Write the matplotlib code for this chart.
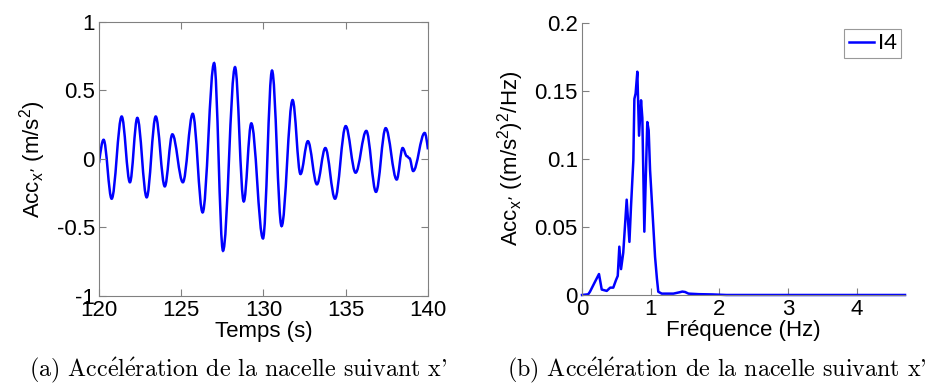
import matplotlib
matplotlib.use("Agg")
import matplotlib.pyplot as plt
from matplotlib.path import Path
from matplotlib.patches import PathPatch
from matplotlib.ticker import FixedLocator, FixedFormatter

# ---------------- data ----------------
# (a) time signal: start point, successive extrema, end point
time_s = [120.0, 120.28, 120.77, 121.38, 121.88, 122.33, 122.9, 123.45, 124.0,
          124.46, 125.1, 125.7, 126.3, 127.0, 127.54, 128.27, 128.8, 129.26,
          129.97, 130.52, 131.1, 131.77, 132.25, 132.7, 133.25, 133.76, 134.35,
          135.0, 135.6, 136.25, 136.84, 137.43, 138.1, 138.46, 138.72, 138.88,
          139.1, 139.8, 140.0]
acc_x = [-0.03, 0.14, -0.29, 0.31, -0.17, 0.30, -0.28, 0.31, -0.20,
         0.18, -0.17, 0.33, -0.39, 0.70, -0.67, 0.67, -0.31, 0.26,
         -0.58, 0.645, -0.49, 0.43, -0.11, 0.13, -0.185, 0.08, -0.29,
         0.24, -0.10, 0.205, -0.24, 0.225, -0.15, 0.08, 0.02, 0.005,
         -0.088, 0.19, 0.07]

# (b) spectrum
freq_hz = [0.0, 0.09, 0.116, 0.19, 0.247, 0.287, 0.36, 0.41, 0.455, 0.495, 0.52,
           0.543, 0.568, 0.60, 0.65, 0.69, 0.713, 0.747, 0.762, 0.78, 0.805,
           0.83, 0.859, 0.878, 0.907, 0.95, 0.97, 0.99, 1.03, 1.063, 1.09,
           1.11, 1.16, 1.33, 1.42, 1.46, 1.50, 1.55, 1.7, 1.9, 2.1, 4.7]
psd = [0.0, 0.0005, 0.0024, 0.0098, 0.0154, 0.004, 0.003, 0.0054, 0.0054, 0.011, 0.014,
       0.0355, 0.019, 0.031, 0.070, 0.039, 0.065, 0.099, 0.144, 0.148, 0.164,
       0.117, 0.143, 0.130, 0.0465, 0.127, 0.121, 0.092, 0.057, 0.028, 0.012,
       0.0024, 0.001, 0.001, 0.002, 0.0025, 0.0022, 0.001, 0.0006, 0.0004, 0.0, 0.0]

xticks_a = [120, 125, 130, 135, 140]
yticks_a = [-1, -0.5, 0, 0.5, 1]
yticklabels_a = ["-1", "-0.5", "0", "0.5", "1"]
xticks_b = [0, 1, 2, 3, 4]
yticks_b = [0, 0.05, 0.1, 0.15, 0.2]
yticklabels_b = ["0", "0.05", "0.1", "0.15", "0.2"]
legend_label = "I4"
# é written with a Computer-Modern math accent so the caption stays in one face
caption_a = r"(a) Acc$\mathrm{\acute{e}}$l$\mathrm{\acute{e}}$ration de la nacelle suivant x'"
caption_b = r"(b) Acc$\mathrm{\acute{e}}$l$\mathrm{\acute{e}}$ration de la nacelle suivant x'"

# ---------------- style ----------------
plt.rcParams['font.family'] = ['Liberation Sans', 'DejaVu Sans']
plt.rcParams['mathtext.default'] = 'regular'
plt.rcParams['axes.unicode_minus'] = False

BLUE = '#0000ff'
GREY = '#808080'
FS = 16

fig = plt.figure(figsize=(9.33, 3.85), dpi=100)
ax1 = fig.add_axes([0.1061, 0.2312, 0.3526, 0.7117])
ax2 = fig.add_axes([0.6238, 0.2338, 0.3462, 0.7073])


def smooth_path(xs, ys):
    """Cubic Bezier path through extrema with horizontal tangents."""
    verts = [(xs[0], ys[0])]
    codes = [Path.MOVETO]
    n = len(xs)
    for i in range(n - 1):
        x0, y0, x1, y1 = xs[i], ys[i], xs[i + 1], ys[i + 1]
        d = x1 - x0
        if i == 0:
            c1 = (x0 + d / 3, y0 + (y1 - y0) * 0.5)
        else:
            c1 = (x0 + 0.36 * d, y0)
        if i == n - 2:
            c2 = (x1 - d / 3, y1 + (y0 - y1) * 0.5)
        else:
            c2 = (x1 - 0.36 * d, y1)
        verts += [c1, c2, (x1, y1)]
        codes += [Path.CURVE4] * 3
    return Path(verts, codes)


ax1.add_patch(PathPatch(smooth_path(time_s, acc_x), facecolor='none',
                        edgecolor=BLUE, lw=1.8, transform=ax1.transData))
ax1.set_xlim(120, 140)
ax1.set_ylim(-1, 1)
ax1.xaxis.set_major_locator(FixedLocator(xticks_a))
ax1.set_xticklabels([str(v) for v in xticks_a])
ax1.yaxis.set_major_locator(FixedLocator(yticks_a))
ax1.yaxis.set_major_formatter(FixedFormatter(yticklabels_a))
ax1.tick_params(direction='in', length=5, width=0.8, color=GREY,
                labelsize=FS, top=True, right=True, pad=3)
for s in ax1.spines.values():
    s.set_color(GREY)
    s.set_linewidth(0.8)
ax1.set_xlabel("Temps (s)", fontsize=FS, labelpad=0)
ax1.set_ylabel("Acc$_{x\u2019}$ (m/s$^2$)", fontsize=FS, labelpad=6)

ax2.plot(freq_hz, psd, color=BLUE, lw=1.8, clip_on=False, label=legend_label)
ax2.set_xlim(0, 4.7)
ax2.set_ylim(0, 0.2)
ax2.xaxis.set_major_locator(FixedLocator(xticks_b))
ax2.set_xticklabels([str(v) for v in xticks_b])
ax2.yaxis.set_major_locator(FixedLocator(yticks_b))
ax2.yaxis.set_major_formatter(FixedFormatter(yticklabels_b))
ax2.tick_params(direction='in', length=5, width=0.8, color=GREY,
                labelsize=FS, pad=3)
ax2.spines['top'].set_visible(False)
ax2.spines['right'].set_visible(False)
for s in ('left', 'bottom'):
    ax2.spines[s].set_color(GREY)
    ax2.spines[s].set_linewidth(0.8)
ax2.set_xlabel("Fréquence (Hz)", fontsize=FS, labelpad=0)
ax2.set_ylabel("Acc$_{x\u2019}$ ((m/s$^2$)$^2$/Hz)", fontsize=FS, labelpad=6)
leg = ax2.legend(loc='upper right', bbox_to_anchor=(0.995, 0.985),
                 frameon=True, fancybox=False, handlelength=1.15, handletextpad=0.15,
                 borderpad=0.2, borderaxespad=0.1,
                 prop={'family': ['Lato', 'DejaVu Sans'], 'size': FS})
leg.get_frame().set_edgecolor(GREY)
leg.get_frame().set_linewidth(0.8)

cap_font = ['cmr10', 'DejaVu Serif']
fig.text(0.2556, 0.037, caption_a, ha='center', va='center', fontsize=17.3,
         family=cap_font, math_fontfamily='cm')
fig.text(0.768, 0.037, caption_b, ha='center', va='center', fontsize=17.3,
         family=cap_font, math_fontfamily='cm')

fig.savefig("out.png", dpi=100)
